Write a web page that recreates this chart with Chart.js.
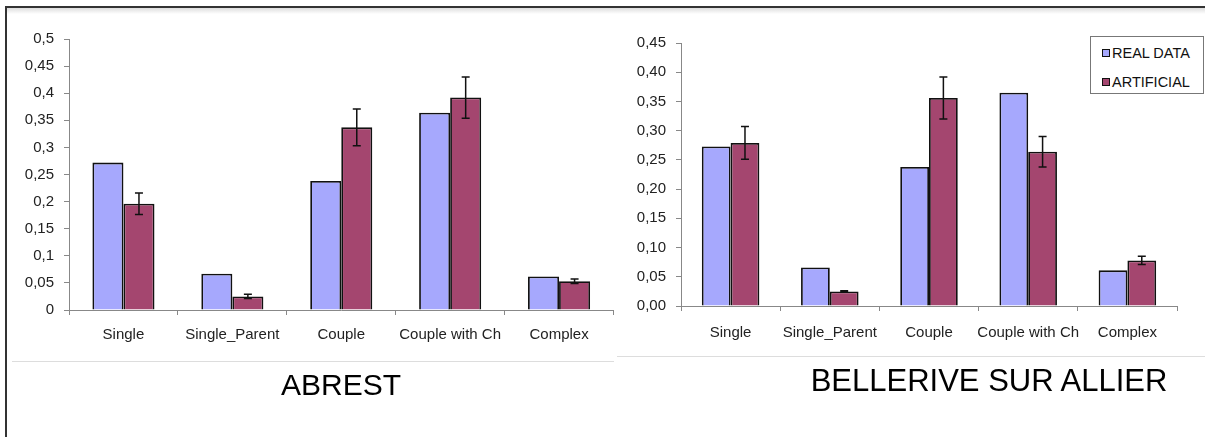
<!DOCTYPE html>
<html>
<head>
<meta charset="utf-8">
<script src="https://cdn.jsdelivr.net/npm/chart.js@4.4.1/dist/chart.umd.min.js"></script>
<style>
  body { margin: 0; background: #fff; font-family: "Liberation Sans", Arial, sans-serif; }
  #page { position: relative; width: 1205px; height: 437px; overflow: hidden; }
  .abs { position: absolute; }
  .title { color: #000; white-space: nowrap; text-align: center; }
  #legend { border: 1px solid #777; background: #fff; font-size: 14.5px; color: #111; }
  #legend .item { position: absolute; left: 11px; white-space: nowrap; line-height: 16px; }
  #legend .box { display: inline-block; width: 6px; height: 6px; border: 1.5px solid #111; margin-right: 2px; vertical-align: 1px; }
</style>
</head>
<body>
<div id="page">
  <div class="abs" style="left:5px;top:6px;width:1200px;height:2px;background:#333;"></div>
  <div class="abs" style="left:5px;top:8px;width:1200px;height:6px;background:linear-gradient(#ddd,#fff);"></div>
  <div class="abs" style="left:5px;top:6px;width:2px;height:431px;background:#333;"></div>

  <div class="abs" style="left:0;top:0;width:616px;height:370px;"><canvas id="abrest"></canvas></div>
  <div class="abs" style="left:614px;top:0;width:591px;height:370px;"><canvas id="bellerive"></canvas></div>

  <div class="abs" style="left:12px;top:361px;width:602px;height:1px;background:#ddd;"></div>
  <div class="abs" style="left:617px;top:356px;width:588px;height:1px;background:#ddd;"></div>

  <div class="abs title" style="left:191px;top:370px;width:300px;font-size:30px;line-height:30px;">ABREST</div>
  <div class="abs title" style="left:789px;top:366px;width:400px;font-size:31px;line-height:30px;">BELLERIVE SUR ALLIER</div>

  <div id="legend" class="abs" style="left:1090px;top:36px;width:112px;height:56px;"></div>
</div>

<script>
// categories and values
const categories = ['Single', 'Single_Parent', 'Couple', 'Couple with Ch', 'Complex'];
const seriesNames = ['REAL DATA', 'ARTIFICIAL'];

const abrestReal = [0.272, 0.067, 0.238, 0.364, 0.062];
const abrestArtificial = [0.196, 0.025, 0.337, 0.392, 0.053];
const abrestError = [0.020, 0.004, 0.034, 0.038, 0.004];
const abrestTicks = ['0', '0,05', '0,1', '0,15', '0,2', '0,25', '0,3', '0,35', '0,4', '0,45', '0,5'];

const belleriveReal = [0.273, 0.066, 0.238, 0.365, 0.061];
const belleriveArtificial = [0.279, 0.025, 0.356, 0.264, 0.078];
const belleriveError = [0.028, 0.001, 0.036, 0.026, 0.007];
const belleriveTicks = ['0,00', '0,05', '0,10', '0,15', '0,20', '0,25', '0,30', '0,35', '0,40', '0,45'];

const colors = ['#a6a8fd', '#a4466f'];
const FONT = '"Liberation Sans", Arial, sans-serif';

// error bars on the artificial series
const errorBars = {
  id: 'errorBars',
  afterDatasetsDraw(chart, args, opts) {
    const errs = opts.values;
    if (!errs) return;
    const meta = chart.getDatasetMeta(1);
    const y = chart.scales.y;
    const ctx = chart.ctx;
    ctx.save();
    ctx.strokeStyle = '#111';
    ctx.lineWidth = 1.5;
    meta.data.forEach((bar, i) => {
      const v = chart.data.datasets[1].data[i];
      const top = y.getPixelForValue(v + errs[i]);
      const bot = y.getPixelForValue(v - errs[i]);
      ctx.beginPath();
      ctx.moveTo(bar.x, top); ctx.lineTo(bar.x, bot);
      ctx.moveTo(bar.x - 4, top); ctx.lineTo(bar.x + 4, top);
      ctx.moveTo(bar.x - 4, bot); ctx.lineTo(bar.x + 4, bot);
      ctx.stroke();
    });
    ctx.restore();
  }
};

function makeChart(id, real, artificial, errors, ticks, maxY, catPct, yWidth, xHeight, xPad, padding) {
  return new Chart(document.getElementById(id), {
    type: 'bar',
    data: {
      labels: categories,
      datasets: [real, artificial].map((d, i) => ({
        label: seriesNames[i],
        data: d,
        backgroundColor: colors[i],
        borderColor: '#111',
        borderWidth: 1.8,
        barPercentage: 1,
        categoryPercentage: catPct
      }))
    },
    options: {
      responsive: true,
      maintainAspectRatio: false,
      animation: false,
      layout: { padding: padding },
      plugins: {
        legend: { display: false },
        tooltip: { enabled: false },
        errorBars: { values: errors }
      },
      scales: {
        x: {
          grid: { drawOnChartArea: false, color: '#888', tickLength: 5, offset: true },
          border: { color: '#888' },
          ticks: { color: '#222', font: { family: FONT, size: 15 }, padding: xPad, maxRotation: 0, autoSkip: false },
          afterFit: s => { s.height = xHeight; }
        },
        y: {
          min: 0, max: maxY,
          grid: { drawOnChartArea: false, color: '#888', tickLength: 5 },
          border: { color: '#888' },
          ticks: {
            stepSize: 0.05,
            color: '#222',
            font: { family: FONT, size: 15 },
            padding: 10,
            callback: (v, i) => ticks[i]
          },
          afterFit: s => { s.width = yWidth; }
        }
      }
    },
    plugins: [errorBars]
  });
}

makeChart('abrest', abrestReal, abrestArtificial, abrestError, abrestTicks, 0.5, 0.57, 69, 60, 11,
  { top: 39, right: 2.5, left: 0, bottom: 0 });
makeChart('bellerive', belleriveReal, belleriveArtificial, belleriveError, belleriveTicks, 0.45, 0.58, 67, 64, 13,
  { top: 43, right: 28, left: 0, bottom: 0 });

// legend
const legend = document.getElementById('legend');
seriesNames.forEach((name, i) => {
  const item = document.createElement('div');
  item.className = 'item';
  item.style.top = (8 + i * 29) + 'px';
  item.innerHTML = '<span class="box" style="background:' + colors[i] + '"></span>' + name;
  legend.appendChild(item);
});
</script>
</body>
</html>
